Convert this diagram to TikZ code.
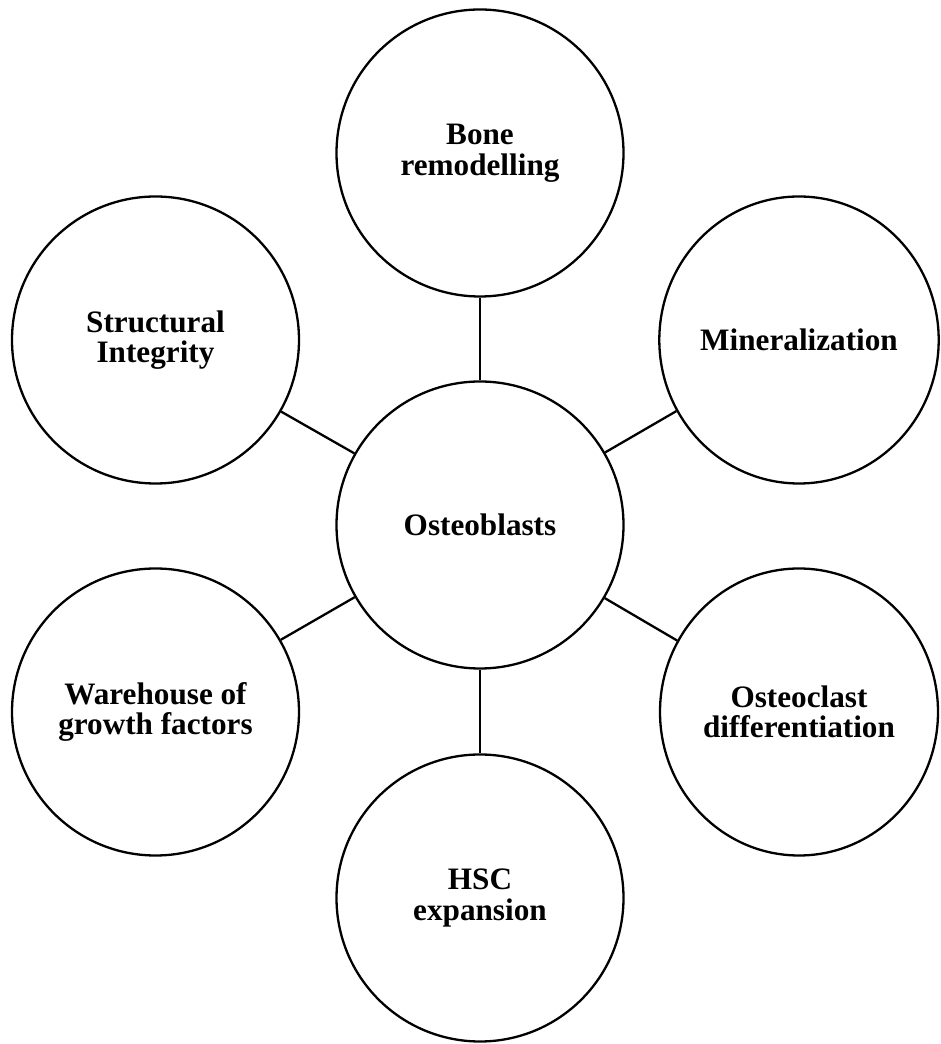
\documentclass[tikz,border=0pt]{standalone}
\usepackage{fontspec}
\setmainfont{Liberation Serif}
\usetikzlibrary{shapes.geometric}
\begin{document}
\begin{tikzpicture}[x=1pt,y=1pt,
  bubble/.style={circle,draw=black,line width=2.3pt,minimum size=287pt,inner sep=0pt,
    align=center,font=\fontsize{31.2}{30.5}\selectfont\bfseries},
  ebubble/.style={ellipse,draw=black,line width=2.3pt,minimum width=278pt,minimum height=287pt,inner sep=0pt,
    align=center,font=\fontsize{31.2}{30.5}\selectfont\bfseries},
  link/.style={draw=black,line width=2.3pt}]
\useasboundingbox (0,0) rectangle (940,1044);
\fill[white] (0,0) rectangle (940,1044);
\node[bubble] (O) at (480,519) {Osteoblasts};
\node[bubble] (bone) at (480,891) {Bone\\remodelling};
\node[ebubble] (mine) at (799,704) {Mineralization};
\node[ebubble] (ocl) at (799,332) {Osteoclast\\differentiation};
\node[bubble] (hsc) at (480,146) {HSC\\expansion};
\node[bubble] (ware) at (155.5,332) {Warehouse of\\growth factors};
\node[bubble] (struc) at (155.5,704) {Structural\\Integrity};
\draw[link] (O) -- (bone);
\draw[link] (O) -- (mine);
\draw[link] (O) -- (ocl);
\draw[link] (O) -- (hsc);
\draw[link] (O) -- (ware);
\draw[link] (O) -- (struc);
\end{tikzpicture}
\end{document}
